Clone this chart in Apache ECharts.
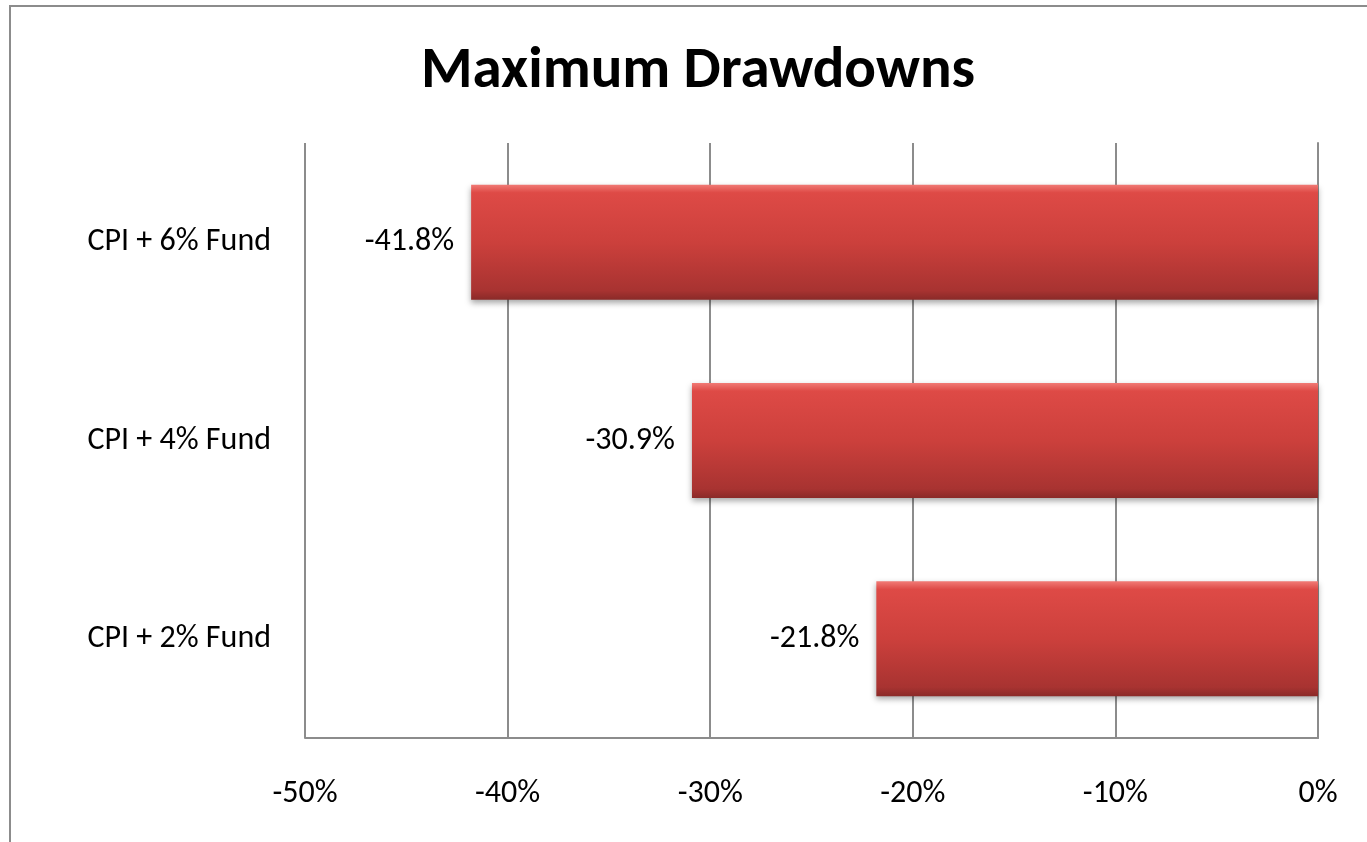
<!DOCTYPE html>
<html>
<head>
<meta charset="utf-8">
<script src="https://cdn.jsdelivr.net/npm/echarts@6/dist/echarts.min.js"></script>
<style>html,body{margin:0;padding:0;background:#fff;}#c{width:1367px;height:842px;}</style>
</head>
<body>
<div id="c"></div>
<script>
const categories = ['CPI + 6% Fund', 'CPI + 4% Fund', 'CPI + 2% Fund'];
const drawdowns = [-41.8, -30.9, -21.8];
const xMin = -50, xMax = 0, xStep = 10;

const chart = echarts.init(document.getElementById('c'));
const font = 'Carlito, "Liberation Sans", "Open Sans", sans-serif';
chart.setOption({
  animation: false,
  backgroundColor: '#fff',
  title: {
    text: 'Maximum Drawdowns',
    left: 693, top: 38, textAlign: 'center',
    textStyle: { fontFamily: font, fontWeight: 'bold', fontSize: 59, color: '#000' }
  },
  graphic: [{
    type: 'rect', shape: { x: 10, y: 6, width: 1400, height: 900 },
    style: { fill: 'none', stroke: '#8c8c8c', lineWidth: 2 }, silent: true, z: -1
  }],
  grid: { left: 305, right: 49, top: 143, bottom: 104 },
  xAxis: {
    type: 'value', min: xMin, max: xMax, interval: xStep,
    axisLine: { show: true, lineStyle: { color: '#8c8c8c', width: 2 } }, axisTick: { show: false },
    splitLine: { show: true, lineStyle: { color: '#8c8c8c', width: 2 } },
    axisLabel: { formatter: v => v + '%', margin: 40, fontFamily: font, fontSize: 32, color: '#000' }
  },
  yAxis: {
    type: 'category', data: categories, inverse: true,
    axisLine: { show: true, lineStyle: { color: '#8c8c8c', width: 2 } },
    axisTick: { show: false },
    axisLabel: { margin: 34, fontFamily: font, fontSize: 32, color: '#000' }
  },
  series: [{
    type: 'bar', data: drawdowns, barWidth: '58%',
    itemStyle: {
      color: new echarts.graphic.LinearGradient(0, 0, 0, 1, [
        { offset: 0, color: '#f17a75' },
        { offset: 0.07, color: '#de4a46' },
        { offset: 0.5, color: '#cc403c' },
        { offset: 0.92, color: '#a83331' },
        { offset: 1, color: '#8a2a28' }
      ]),
      shadowBlur: 6, shadowColor: 'rgba(0,0,0,0.35)', shadowOffsetY: 3
    },
    label: {
      show: true, position: 'left', distance: 17,
      formatter: p => p.value.toFixed(1) + '%',
      fontFamily: font, fontSize: 32, color: '#000'
    }
  }]
});
</script>
</body>
</html>
